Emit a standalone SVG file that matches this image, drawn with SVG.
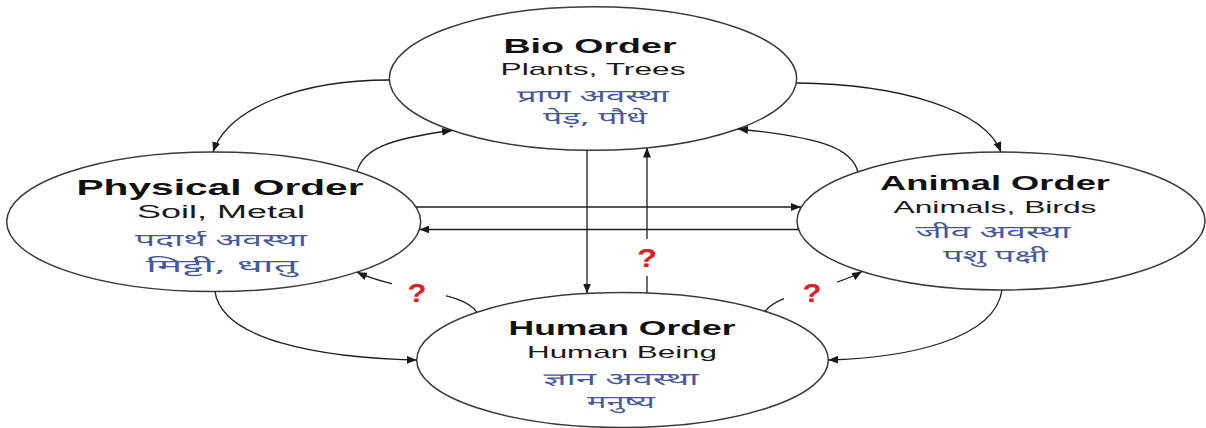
<svg xmlns="http://www.w3.org/2000/svg" width="1206" height="428" viewBox="0 0 1206 428">
  <defs>
    <marker id="arrow" viewBox="0 0 10 8" refX="10" refY="4" markerWidth="10" markerHeight="8" markerUnits="userSpaceOnUse" orient="auto">
      <path d="M0,0 L10,4 L0,8 z" fill="#1a1a1a"/>
    </marker>
    <style>
      .order { fill: #ffffff; stroke: #3a3a3a; stroke-width: 1.5; }
      .title { font-family: "Liberation Sans", Arial, sans-serif; font-weight: bold; fill: #111111; text-anchor: middle; }
      .sub { font-family: "Liberation Sans", Arial, sans-serif; fill: #1a1a1a; text-anchor: middle; }
      .hi { font-family: "Noto Sans Devanagari", "Lohit Devanagari", "Noto Sans", sans-serif; font-size: 17px; fill: #46599a; text-anchor: middle; }
      .link { fill: none; stroke: #1e1e1e; stroke-width: 1.3; marker-end: url(#arrow); }
      .mask { fill: #ffffff; stroke: none; }
      .ask { font-family: "Liberation Sans", Arial, sans-serif; font-weight: bold; font-size: 25px; fill: #e0201e; text-anchor: middle; }
    </style>
  </defs>
  <rect width="1206" height="428" fill="#ffffff"/>

  <!-- Bio Order -->
  <g id="bio-order">
    <ellipse class="order" cx="593" cy="78.5" rx="203.7" ry="71.7"/>
    <text class="title" x="590" y="53" font-size="20.5" textLength="173" lengthAdjust="spacingAndGlyphs">Bio Order</text>
    <text class="sub" x="593" y="75" font-size="17" textLength="185" lengthAdjust="spacingAndGlyphs">Plants, Trees</text>
    <text class="hi" x="593" y="102" textLength="152" lengthAdjust="spacingAndGlyphs">प्राण अवस्था</text>
    <text class="hi" x="595" y="124" textLength="104" lengthAdjust="spacingAndGlyphs">पेड़, पौधे</text>
  </g>

  <!-- Physical Order -->
  <g id="physical-order">
    <ellipse class="order" cx="213.7" cy="221.8" rx="207" ry="69.8"/>
    <text class="title" x="220" y="195" font-size="22" textLength="287" lengthAdjust="spacingAndGlyphs">Physical Order</text>
    <text class="sub" x="221" y="218" font-size="17.5" textLength="168" lengthAdjust="spacingAndGlyphs">Soil, Metal</text>
    <text class="hi" x="221" y="246" textLength="172" lengthAdjust="spacingAndGlyphs">पदार्थ अवस्था</text>
    <text class="hi" x="222" y="271.5" textLength="152" lengthAdjust="spacingAndGlyphs">मिट्टी, धातु</text>
  </g>

  <!-- Animal Order -->
  <g id="animal-order">
    <ellipse class="order" cx="1001" cy="221" rx="204" ry="69"/>
    <text class="title" x="995" y="190" font-size="19.5" textLength="230" lengthAdjust="spacingAndGlyphs">Animal Order</text>
    <text class="sub" x="995" y="213" font-size="17" textLength="203" lengthAdjust="spacingAndGlyphs">Animals, Birds</text>
    <text class="hi" x="993" y="238" textLength="155" lengthAdjust="spacingAndGlyphs">जीव अवस्था</text>
    <text class="hi" x="995.5" y="262" textLength="105" lengthAdjust="spacingAndGlyphs">पशु पक्षी</text>
  </g>

  <!-- Human Order -->
  <g id="human-order">
    <ellipse class="order" cx="622.5" cy="360" rx="205.8" ry="67.5"/>
    <text class="title" x="622" y="335" font-size="19.5" textLength="227" lengthAdjust="spacingAndGlyphs">Human Order</text>
    <text class="sub" x="622" y="358" font-size="17" textLength="190" lengthAdjust="spacingAndGlyphs">Human Being</text>
    <text class="hi" x="621" y="385" textLength="155" lengthAdjust="spacingAndGlyphs">ज्ञान अवस्था</text>
    <text class="hi" x="621" y="408" textLength="68" lengthAdjust="spacingAndGlyphs">मनुष्य</text>
  </g>

  <!-- Connectors between the orders -->
  <g id="connectors">
    <!-- Bio <-> Physical -->
    <path class="link" d="M389.5,80 C300,80 228,108 213,152"/>
    <path class="link" d="M357,171.4 C363,150 386,139 452,130.5"/>
    <!-- Bio <-> Animal -->
    <path class="link" d="M796.5,83 C900,84 985,110 1001,152"/>
    <path class="link" d="M858,172 C852,150 828,138 738,129"/>
    <!-- Physical <-> Animal -->
    <path class="link" d="M416,207 L801,207"/>
    <path class="link" d="M798.6,229.5 L419.4,229.5"/>
    <!-- Bio <-> Human -->
    <path class="link" d="M587,150 L587,293.5"/>
    <path class="link" d="M647,293 L647,147.5"/>
    <!-- Physical -> Human and back -->
    <path class="link" d="M215,291.6 C222,340 320,358 416.7,360"/>
    <path class="link" d="M477,312.3 C462,290 400,292 357,272.2"/>
    <!-- Animal -> Human and back -->
    <path class="link" d="M1002,290 C995,340 905,358 828.3,360"/>
    <path class="link" d="M765,311.3 C780,292 830,290 862,271.5"/>

    <!-- open questions on the links leaving Human Order -->
    <rect class="mask" x="392" y="278" width="54" height="28"/>
    <rect class="mask" x="630" y="239" width="35" height="37"/>
    <rect class="mask" x="784" y="278" width="53" height="28"/>
    <text class="ask" x="417" y="302" textLength="19" lengthAdjust="spacingAndGlyphs">?</text>
    <text class="ask" x="647" y="267" textLength="20" lengthAdjust="spacingAndGlyphs">?</text>
    <text class="ask" x="812" y="302" textLength="19" lengthAdjust="spacingAndGlyphs">?</text>
  </g>
</svg>
